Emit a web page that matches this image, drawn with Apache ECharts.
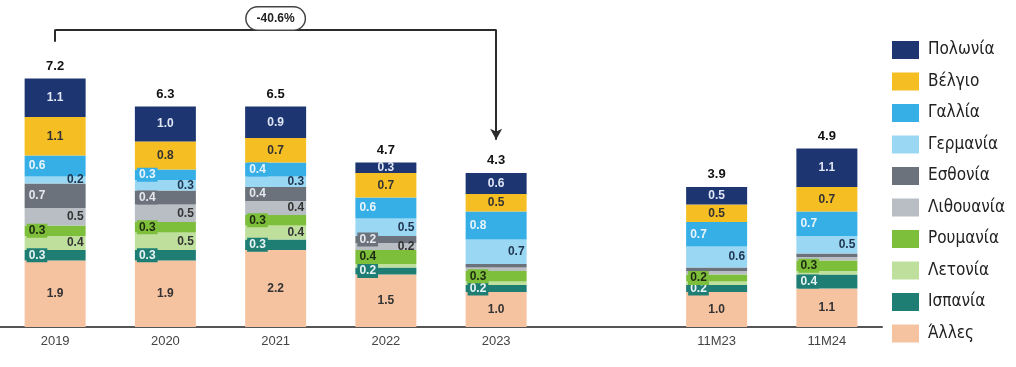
<!DOCTYPE html>
<html>
<head>
<meta charset="utf-8">
<script src="https://cdn.jsdelivr.net/npm/echarts@6/dist/echarts.min.js"></script>
<style>
  html, body { margin: 0; padding: 0; background: #fff; }
  #chart { width: 1016px; height: 367px; }
</style>
</head>
<body>
<div id="chart"></div>
<script>
// categories (empty slot = gap between full years and 11M)
const years = ['2019', '2020', '2021', '2022', '2023', '', '11M23', '11M24']

// values, bottom of the stack first
const alles = [1.9, 1.9, 2.2, 1.5, 1.0, '-', 1.0, 1.1]
const ispania = [0.3, 0.3, 0.3, 0.2, 0.2, '-', 0.2, 0.4]
const letonia = [0.4, 0.5, 0.4, 0.1, 0.1, '-', 0.1, 0.1]
const roumania = [0.3, 0.3, 0.3, 0.4, 0.3, '-', 0.2, 0.3]
const lithouania = [0.5, 0.5, 0.4, 0.2, 0.1, '-', 0.1, 0.1]
const esthonia = [0.7, 0.4, 0.4, 0.2, 0.1, '-', 0.1, 0.1]
const germania = [0.2, 0.3, 0.3, 0.5, 0.7, '-', 0.6, 0.5]
const gallia = [0.6, 0.3, 0.4, 0.6, 0.8, '-', 0.7, 0.7]
const velgio = [1.1, 0.8, 0.7, 0.7, 0.5, '-', 0.5, 0.7]
const polonia = [1.1, 1.0, 0.9, 0.3, 0.6, '-', 0.5, 1.1]

const totals = [7.2, 6.3, 6.5, 4.7, 4.3, null, 3.9, 4.9]
const changeLabel = '-40.6%'

const labelFont = 'Arial, "Liberation Sans", sans-serif'
const legendFont = '"Liberation Sans Narrow", "DejaVu Sans Condensed", "Roboto", sans-serif'

const stackDefs = [
  { name: 'Άλλες', data: alles, color: '#f6c3a1', pos: 'inside', text: '#333' },
  { name: 'Ισπανία', data: ispania, color: '#1f7e74', pos: 'insideLeft', text: '#e8f4f4', box: true },
  { name: 'Λετονία', data: letonia, color: '#bfe09c', pos: 'insideRight', text: '#333' },
  { name: 'Ρουμανία', data: roumania, color: '#7dbf3b', pos: 'insideLeft', text: '#1e2a10', box: true },
  { name: 'Λιθουανία', data: lithouania, color: '#b8bec3', pos: 'insideRight', text: '#333' },
  { name: 'Εσθονία', data: esthonia, color: '#6b727c', pos: 'insideLeft', text: '#e6e9ee', box: true },
  { name: 'Γερμανία', data: germania, color: '#9ad7f2', pos: 'insideRight', text: '#1e3550' },
  { name: 'Γαλλία', data: gallia, color: '#36aee6', pos: 'insideLeft', text: '#e8f5fc', box: true },
  { name: 'Βέλγιο', data: velgio, color: '#f5be22', pos: 'inside', text: '#333' },
  { name: 'Πολωνία', data: polonia, color: '#1d3570', pos: 'inside', text: '#dfe6f5' }
]

const series = stackDefs.map(s => ({
  name: s.name,
  type: 'bar',
  stack: 'total',
  barWidth: 61,
  data: s.data,
  itemStyle: { color: s.color },
  label: {
    show: true,
    position: s.pos,
    distance: 2,
    color: s.text,
    fontFamily: labelFont,
    fontSize: 12,
    fontWeight: 'bold',
    backgroundColor: s.box ? s.color : 'transparent',
    padding: s.box ? [1, 2] : 0,
    formatter: p => (p.value >= 0.15 ? p.value.toFixed(1) : '')
  }
}))

// totals on top of each stack, plus the 2019 -> 2023 bracket
series.push({
  name: 'total',
  type: 'bar',
  stack: 'total',
  barWidth: 61,
  data: totals.map(t => (t == null ? '-' : 0)),
  itemStyle: { color: 'transparent' },
  label: {
    show: true,
    position: 'top',
    distance: 6,
    color: '#111',
    fontFamily: labelFont,
    fontSize: 13,
    fontWeight: 'bold',
    formatter: p => (totals[p.dataIndex] == null ? '' : totals[p.dataIndex].toFixed(1))
  },
  markLine: {
    silent: true,
    symbol: ['none', 'none'],
    lineStyle: { color: '#2b2b2b', width: 2, type: 'solid' },
    label: { show: false },
    data: [
      [{ coord: ['2019', 8.15] }, { coord: ['2019', 8.5] }],
      [
        { coord: ['2019', 8.5] },
        {
          coord: ['2023', 8.5],
          label: {
            show: true,
            position: 'middle',
            formatter: changeLabel,
            color: '#222',
            fontFamily: labelFont,
            fontSize: 12,
            fontWeight: 'bold',
            backgroundColor: '#fff',
            borderColor: '#444',
            borderWidth: 1.5,
            borderRadius: 12,
            padding: [5, 10],
            distance: 0
          }
        }
      ],
      [{ coord: ['2023', 8.5] }, { coord: ['2023', 5.35], symbol: 'arrow', symbolSize: [9, 11] }]
    ]
  }
})

const chart = echarts.init(document.getElementById('chart'))
chart.setOption({
  animation: false,
  backgroundColor: '#fff',
  grid: { left: -6, right: 134, top: 12, bottom: 40 },
  legend: {
    orient: 'vertical',
    left: 887,
    top: 36,
    itemWidth: 27,
    itemHeight: 18,
    itemGap: 13.5,
    icon: 'rect',
    data: stackDefs.map(s => s.name).reverse(),
    textStyle: { fontFamily: legendFont, fontSize: 17, color: '#222', padding: [0, 0, 0, 4] }
  },
  xAxis: {
    type: 'category',
    data: years,
    axisLine: { lineStyle: { color: '#555', width: 2 } },
    axisTick: { show: false },
    axisLabel: { color: '#444', fontFamily: labelFont, fontSize: 13, margin: 8 }
  },
  yAxis: {
    type: 'value',
    min: 0,
    max: 9,
    show: false,
    splitLine: { show: false }
  },
  series
})
</script>
</body>
</html>
